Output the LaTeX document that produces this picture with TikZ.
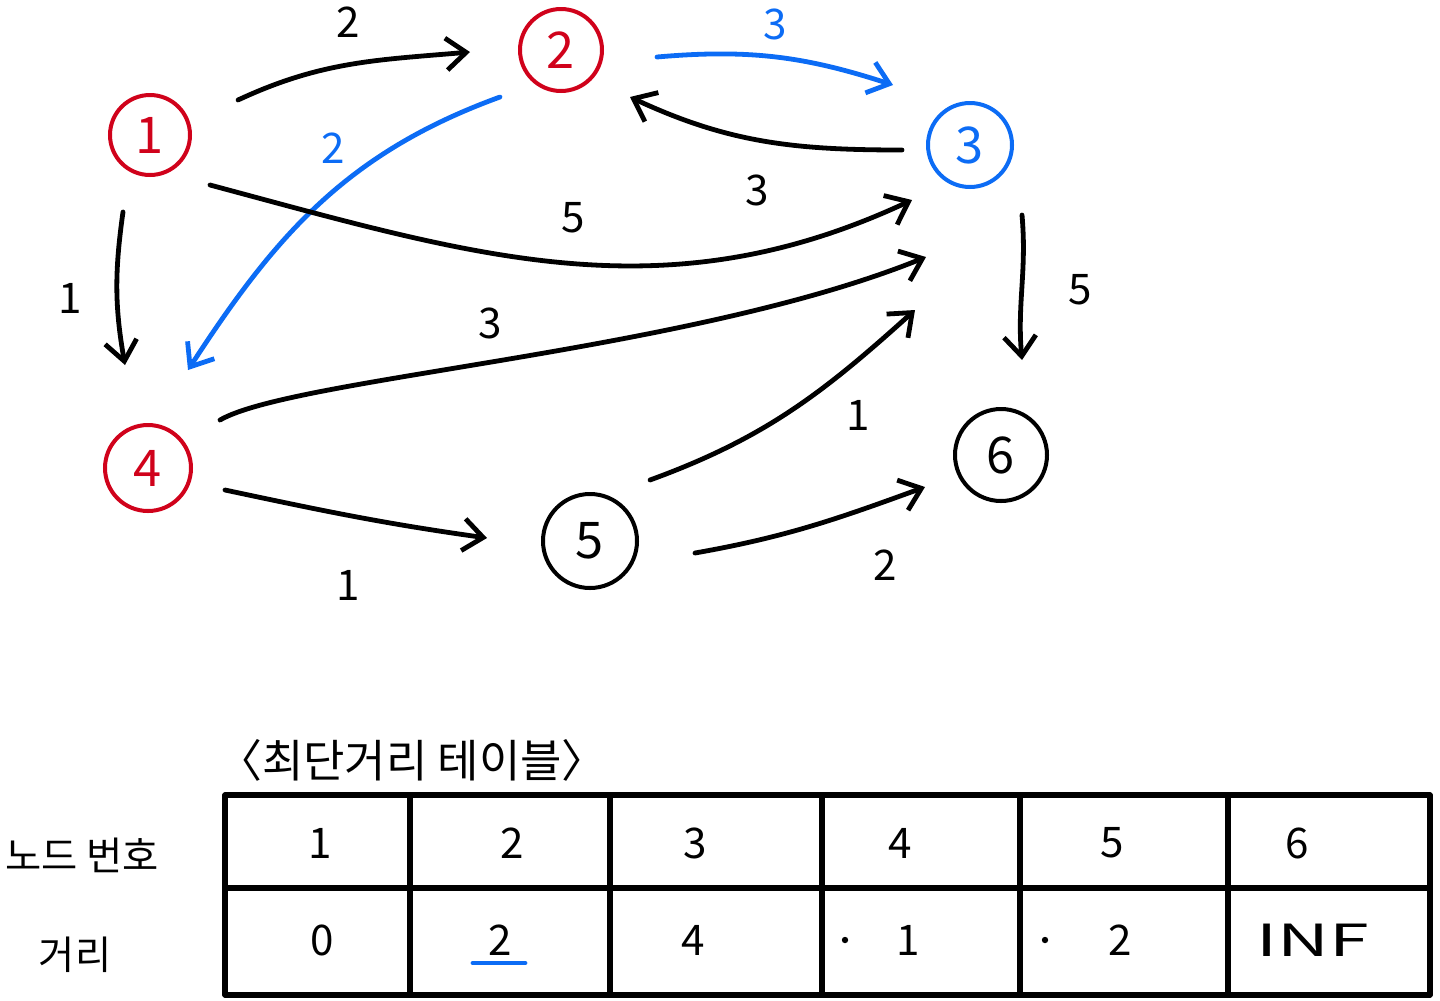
\documentclass[tikz,border=0pt]{standalone}
\usepackage{fontspec}
\setmainfont{Noto Sans CJK KR}
\usetikzlibrary{arrows.meta,positioning}

\definecolor{hred}{RGB}{208,2,27}
\definecolor{hblue}{RGB}{12,108,245}

\begin{document}
\begin{tikzpicture}[
    x=0.25mm, y=0.25mm,
    >={Straight Barb[length=5mm,width=8mm]},
    every node/.style={font=\fontsize{30}{34}\selectfont},
    vertex/.style={
        circle,
        draw=#1,
        text=#1,
        line width=1mm,
        inner sep=0pt,
        font=\fontsize{36}{40}\selectfont
    },
    vertex/.default=black,
    link/.style={->, line width=1.2mm, line cap=round, draw=#1},
    link/.default=black,
    wlabel/.style={text=#1},
    wlabel/.default=black,
    tabline/.style={line width=1.3mm, line cap=round},
    hdr/.style={font=\fontsize{28}{32}\selectfont}
]
\useasboundingbox (0,0) rectangle (1440,-1000);

% Graph: vertices
\node[vertex=hred,   minimum size=20mm] (n1) at (150,-135) {1};
\node[vertex=hred,   minimum size=20.5mm] (n2) at (561,-50) {2};
\node[vertex=hblue,  minimum size=21mm] (n3) at (970,-145) {3};
\node[vertex=hred,   minimum size=21.5mm] (n4) at (148,-468) {4};
\node[vertex,        minimum size=23.5mm] (n5) at (590,-541) {5};
\node[vertex,        minimum size=23mm] (n6) at (1001,-455) {6};

% Graph: weighted edges
\draw[link]       ([shift={(88,35)}]n1.center)   to[out=25,in=185]  ([shift={(-91,-2)}]n2.center);
\draw[link=hblue] ([shift={(96,-7)}]n2.center)   to[out=5,in=162]   ([shift={(-77,60)}]n3.center);
\draw[link]       ([shift={(-68,-5)}]n3.center)  to[out=180,in=-25] ([shift={(69,-47)}]n2.center);
\draw[link=hblue] ([shift={(-61,-47)}]n2.center) to[out=200,in=57]  ([shift={(40,98)}]n4.center);
\draw[link]       ([shift={(60,-50)}]n1.center)  to[out=-15,in=205] ([shift={(-58,-55)}]n3.center);
\draw[link]       ([shift={(-27,-77)}]n1.center) to[out=262,in=100] ([shift={(-23,103)}]n4.center);
\draw[link]       ([shift={(72,48)}]n4.center)   to[out=30,in=202,out looseness=0.3,in looseness=0.9] ([shift={(-44,-112)}]n3.center);
\draw[link]       ([shift={(60,61)}]n5.center)   to[out=20,in=222]  ([shift={(-55,-165)}]n3.center);
\draw[link]       ([shift={(52,-70)}]n3.center)  to[out=-85,in=95]  ([shift={(21,95)}]n6.center);
\draw[link]       ([shift={(77,-22)}]n4.center)  to[out=-12,in=172] ([shift={(-103,3)}]n5.center);
\draw[link]       ([shift={(105,-12)}]n5.center) to[out=10,in=200]  ([shift={(-76,-32)}]n6.center);

% Edge weights
\node[wlabel]       (w12) at (348,-22)  {2};
\node[wlabel=hblue] (w23) at (775,-24)  {3};
\node[wlabel]       (w32) at (757,-190) {3};
\node[wlabel=hblue] (w24) at (333,-148) {2};
\node[wlabel]       (w13) at (573,-218) {5};
\node[wlabel]       (w14) at (70,-298)  {1};
\node[wlabel]       (w43) at (490,-323) {3};
\node[wlabel]       (w53) at (858,-415) {1};
\node[wlabel]       (w36) at (1080,-290) {5};
\node[wlabel]       (w45) at (348,-585) {1};
\node[wlabel]       (w56) at (885,-565) {2};

% Shortest distance table
\node[hdr, font=\fontsize{32}{36}\selectfont] (title) at (412,-760) {〈최단거리 테이블〉};
\node[hdr] (rowid)   at (82,-855)  {노드 번호};
\node[hdr] (rowdist) at (75,-955)  {거리};

\foreach \x in {225,410,610,822,1020,1228,1430}
    \draw[tabline] (\x,-795) -- (\x,-995);
\foreach \y in {795,888,995}
    \draw[tabline] (225,-\y) -- (1430,-\y);

\foreach \cx/\t [count=\i] in {320/1,512/2,695/3,900/4,1112/5,1297/6}
    \node (id\i) at (\cx,-843) {\t};
\foreach \cx/\t [count=\i] in {322/0,500/2,693/4,908/1,1120/2,1313/\scalebox{1.7}[1.05]{INF}}
    \node (dist\i) at (\cx,-940) {\t};

% visited marks and current pick
\fill (845,-940) circle (0.8mm);
\fill (1045,-940) circle (0.8mm);
\draw[hblue, line width=1.2mm, line cap=round] (473,-963) -- (525,-963);

\end{tikzpicture}
\end{document}
